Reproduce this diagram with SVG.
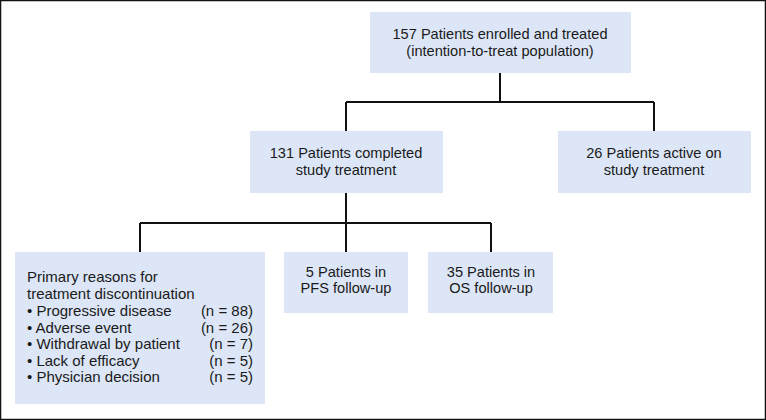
<svg xmlns="http://www.w3.org/2000/svg" width="766" height="420" viewBox="0 0 766 420">
<style>
.box{fill:#dce6f7;}
.t{font-family:"Liberation Sans",Arial,sans-serif;font-size:14.6px;fill:#1a1a1a;}
.s{font-size:15px;}
.c{text-anchor:middle;}
.r{text-anchor:end;}
.ln{fill:none;stroke:#111;stroke-width:2;}
</style>
<rect x="0.5" y="0.5" width="765" height="419" fill="#fff" stroke="#111" stroke-width="1.5"/>
<g id="connectors">
<path class="ln" d="M500 73 V102 M346 102 H654 M346 102 V131 M654 102 V131"/>
<path class="ln" d="M346 193 V223 M140 223 H491 M140 223 V252 M346 223 V252 M491 223 V252"/>
</g>
<g id="n157">
<rect class="box" x="370" y="12" width="261" height="61"/>
<text class="t c" x="500" y="39">157 Patients enrolled and treated</text>
<text class="t c" x="500" y="56">(intention-to-treat population)</text>
</g>
<g id="n131">
<rect class="box" x="250" y="131" width="193" height="62"/>
<text class="t c" x="346" y="158">131 Patients completed</text>
<text class="t c" x="346" y="175">study treatment</text>
</g>
<g id="n26">
<rect class="box" x="558" y="131" width="193" height="62"/>
<text class="t c" x="654" y="158">26 Patients active on</text>
<text class="t c" x="654" y="175">study treatment</text>
</g>
<g id="nreasons">
<rect class="box" x="15" y="252" width="250" height="152"/>
<text class="t s" x="27" y="282">Primary reasons for</text>
<text class="t s" x="27" y="299">treatment discontinuation</text>
<text class="t s" x="27" y="315.5">• Progressive disease</text>
<text class="t s" x="27" y="332.5">• Adverse event</text>
<text class="t s" x="27" y="349">• Withdrawal by patient</text>
<text class="t s" x="27" y="365.5">• Lack of efficacy</text>
<text class="t s" x="27" y="382">• Physician decision</text>
<text class="t s r" x="253" y="315.5">(n = 88)</text>
<text class="t s r" x="253" y="332.5">(n = 26)</text>
<text class="t s r" x="253" y="349">(n = 7)</text>
<text class="t s r" x="253" y="365.5">(n = 5)</text>
<text class="t s r" x="253" y="382">(n = 5)</text>
</g>
<g id="npfs">
<rect class="box" x="284" y="252" width="124" height="61"/>
<text class="t c" x="346" y="277">5 Patients in</text>
<text class="t c" x="346" y="293">PFS follow-up</text>
</g>
<g id="nos">
<rect class="box" x="428" y="252" width="125" height="61"/>
<text class="t c" x="491" y="277">35 Patients in</text>
<text class="t c" x="491" y="293">OS follow-up</text>
</g>
</svg>
